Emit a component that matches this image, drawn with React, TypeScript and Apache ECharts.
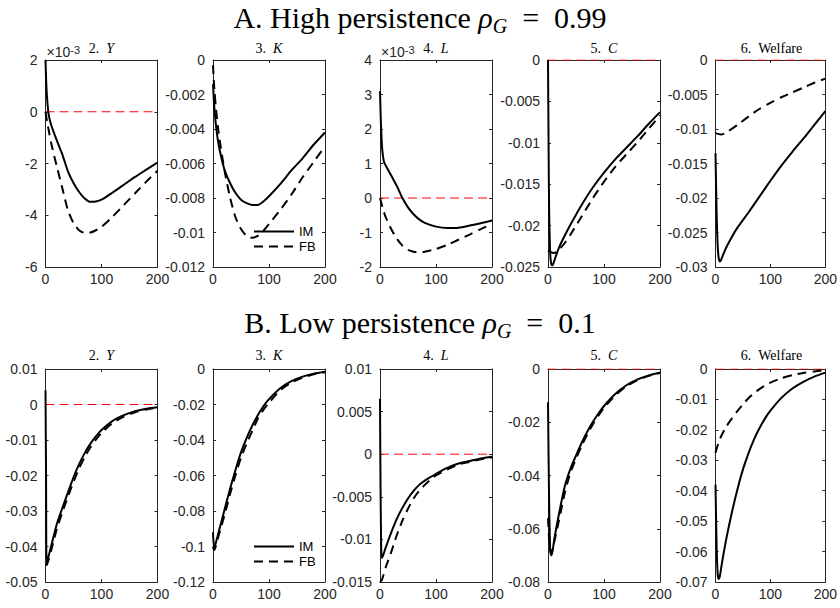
import React, { useEffect, useRef } from 'react';
import * as echarts from 'echarts';

// ---------- Data ----------
// Panel A: high persistence rho_G = 0.99 ; Y and L in units of 1e-3
const yA_IM = [[0, 2.0], [1, 1.3], [2, 0.8], [4, 0.2], [6, -0.15], [10, -0.5], [20, -1.1], [30, -1.65], [40, -2.3], [50, -2.75], [60, -3.1], [70, -3.35], [80, -3.48], [90, -3.47], [100, -3.4], [120, -3.12], [140, -2.82], [160, -2.52], [180, -2.24], [200, -1.96]];
const yA_FB = [[0, 0], [3, -0.4], [6, -0.75], [10, -1.2], [20, -2.1], [30, -2.95], [40, -3.8], [50, -4.3], [60, -4.58], [70, -4.68], [80, -4.67], [90, -4.58], [100, -4.45], [120, -4.05], [140, -3.6], [160, -3.15], [180, -2.7], [200, -2.28]];
const kA_IM = [[0, -0.0014], [2, -0.0026], [5, -0.0037], [10, -0.0049], [20, -0.0063], [30, -0.0071], [40, -0.0077], [50, -0.0081], [60, -0.0083], [70, -0.0084], [80, -0.0084], [90, -0.0082], [100, -0.0079], [120, -0.0072], [140, -0.0064], [160, -0.0057], [180, -0.0049], [200, -0.0042]];
const kA_FB = [[0, -0.0003], [2, -0.0015], [5, -0.0027], [10, -0.0042], [20, -0.0063], [30, -0.0079], [40, -0.0091], [50, -0.0098], [60, -0.0102], [70, -0.0103], [80, -0.0102], [90, -0.0099], [100, -0.0095], [120, -0.0087], [140, -0.0078], [160, -0.0068], [180, -0.0059], [200, -0.005]];
const lA_IM = [[0, 3.1], [1, 2.5], [2, 2.0], [4, 1.4], [7, 1.05], [10, 0.95], [20, 0.65], [30, 0.35], [40, 0.0], [50, -0.27], [60, -0.47], [70, -0.62], [80, -0.72], [100, -0.83], [120, -0.87], [140, -0.86], [160, -0.8], [180, -0.73], [200, -0.65]];
const lA_FB = [[0, 0], [5, -0.3], [10, -0.55], [20, -0.9], [30, -1.18], [40, -1.38], [50, -1.5], [60, -1.56], [70, -1.58], [80, -1.56], [100, -1.48], [120, -1.36], [140, -1.21], [160, -1.06], [180, -0.9], [200, -0.75]];
const cA_IM = [[0, 0], [1, -0.01], [2, -0.018], [4, -0.0235], [6, -0.0247], [8, -0.0248], [10, -0.0245], [14, -0.0237], [20, -0.0226], [30, -0.0212], [40, -0.0199], [60, -0.0175], [80, -0.0154], [100, -0.0136], [120, -0.012], [140, -0.0106], [160, -0.0092], [180, -0.0077], [200, -0.0063]];
const cA_FB = [[0, -0.023], [5, -0.0232], [10, -0.0233], [15, -0.0232], [20, -0.0229], [30, -0.0221], [40, -0.0211], [60, -0.0189], [80, -0.0167], [100, -0.0147], [120, -0.0129], [140, -0.0114], [160, -0.0099], [180, -0.0083], [200, -0.0067]];
const wA_IM = [[0, -0.0135], [2, -0.022], [4, -0.027], [6, -0.0288], [8, -0.0292], [10, -0.029], [14, -0.0282], [20, -0.0271], [30, -0.0256], [40, -0.0243], [60, -0.0221], [80, -0.0198], [100, -0.0175], [120, -0.0153], [140, -0.0133], [160, -0.0114], [180, -0.0094], [200, -0.0074]];
const wA_FB = [[0, -0.0106], [10, -0.0108], [20, -0.0105], [40, -0.0094], [60, -0.0082], [80, -0.0071], [100, -0.0062], [120, -0.0054], [140, -0.0047], [160, -0.004], [180, -0.0033], [200, -0.0027]];

// Panel B: low persistence rho_G = 0.1
const yB_IM = [[0, 0.004], [1, -0.02], [2, -0.0448], [5, -0.043], [10, -0.04], [20, -0.0338], [30, -0.0292], [40, -0.0248], [50, -0.0205], [60, -0.0168], [70, -0.0137], [80, -0.0111], [90, -0.009], [100, -0.0072], [120, -0.0046], [140, -0.003], [160, -0.0019], [180, -0.0012], [200, -0.0008]];
const yB_FB = [[0, -0.045], [2, -0.0452], [5, -0.044], [10, -0.0412], [20, -0.0352], [30, -0.0304], [40, -0.026], [50, -0.0218], [60, -0.018], [70, -0.0148], [80, -0.0121], [90, -0.0099], [100, -0.008], [120, -0.0052], [140, -0.0034], [160, -0.0022], [180, -0.0014], [200, -0.0009]];
const kB_IM = [[0, -0.092], [2, -0.101], [5, -0.098], [10, -0.092], [20, -0.08], [30, -0.068], [40, -0.057], [50, -0.047], [60, -0.039], [70, -0.032], [80, -0.026], [90, -0.021], [100, -0.017], [120, -0.0108], [140, -0.0068], [160, -0.0043], [180, -0.0026], [200, -0.0015]];
const kB_FB = [[0, -0.1], [2, -0.102], [5, -0.1], [10, -0.094], [20, -0.083], [30, -0.071], [40, -0.06], [50, -0.05], [60, -0.042], [70, -0.035], [80, -0.028], [90, -0.023], [100, -0.019], [120, -0.012], [140, -0.0076], [160, -0.0048], [180, -0.003], [200, -0.0018]];
const lB_IM = [[0, 0.0065], [1, -0.004], [3, -0.0122], [6, -0.0118], [10, -0.011], [20, -0.0092], [30, -0.0076], [40, -0.0063], [50, -0.0052], [60, -0.0043], [70, -0.0036], [80, -0.0031], [90, -0.0027], [100, -0.0023], [120, -0.0016], [140, -0.0011], [160, -0.0008], [180, -0.0005], [200, -0.0003]];
const lB_FB = [[0, -0.015], [3, -0.0148], [6, -0.0142], [10, -0.0133], [20, -0.0115], [30, -0.0095], [40, -0.0078], [50, -0.0064], [60, -0.0052], [70, -0.0043], [80, -0.0036], [90, -0.003], [100, -0.0025], [120, -0.0018], [140, -0.0012], [160, -0.0009], [180, -0.0006], [200, -0.0004]];
const cB_IM = [[0, -0.0125], [2, -0.05], [4, -0.0685], [6, -0.07], [8, -0.0685], [12, -0.063], [20, -0.054], [30, -0.044], [40, -0.0375], [50, -0.0325], [60, -0.0278], [70, -0.0236], [80, -0.0199], [90, -0.0167], [100, -0.0139], [120, -0.0094], [140, -0.0061], [160, -0.0039], [180, -0.0024], [200, -0.0013]];
const cB_FB = [[0, -0.056], [3, -0.067], [6, -0.069], [10, -0.066], [20, -0.0565], [30, -0.0465], [40, -0.039], [50, -0.0337], [60, -0.0289], [70, -0.0246], [80, -0.0208], [90, -0.0175], [100, -0.0146], [120, -0.0099], [140, -0.0065], [160, -0.0042], [180, -0.0026], [200, -0.0015]];
const wB_IM = [[0, -0.038], [2, -0.058], [4, -0.0675], [6, -0.069], [8, -0.068], [12, -0.0635], [20, -0.0555], [30, -0.047], [40, -0.0395], [50, -0.033], [60, -0.0277], [70, -0.0232], [80, -0.0195], [90, -0.0163], [100, -0.0137], [120, -0.0095], [140, -0.0064], [160, -0.0042], [180, -0.0025], [200, -0.0012]];
const wB_FB = [[0, -0.0275], [5, -0.0245], [10, -0.0222], [20, -0.0188], [30, -0.0162], [40, -0.0138], [50, -0.0116], [60, -0.0096], [70, -0.008], [80, -0.0066], [90, -0.0055], [100, -0.0045], [120, -0.003], [140, -0.002], [160, -0.0013], [180, -0.0008], [200, -0.0004]];

// Panel titles and y-axis ranges [min, max, interval]
const panelNums = ['2.', '3.', '4.', '5.', '6.'];
const panelVars = ['Y', 'K', 'L', 'C', 'Welfare'];
const rangesA = [[-6, 2, 2], [-0.012, 0, 0.002], [-2, 4, 1], [-0.025, 0, 0.005], [-0.03, 0, 0.005]];
const rangesB = [[-0.05, 0.01, 0.01], [-0.12, 0, 0.02], [-0.015, 0.01, 0.005], [-0.08, 0, 0.02], [-0.07, 0, 0.01]];
const xTicks = [0, 200, 100];
const rowTitles = [
  { label: 'A. High persistence ', value: '\u2002=\u20020.99' },
  { label: 'B. Low persistence ', value: '\u2002=\u20020.1' },
];

const SANS = "'Liberation Sans', Arial, Helvetica, sans-serif";
const SERIF = "'Liberation Serif', 'Times New Roman', serif";
const AX = '#262626';

function fmt(v: number) {
  const r = Math.round(v * 1e6) / 1e6;
  return String(r === 0 ? 0 : r);
}

function buildOption() {
  const rowsIM = [[yA_IM, kA_IM, lA_IM, cA_IM, wA_IM], [yB_IM, kB_IM, lB_IM, cB_IM, wB_IM]];
  const rowsFB = [[yA_FB, kA_FB, lA_FB, cA_FB, wA_FB], [yB_FB, kB_FB, lB_FB, cB_FB, wB_FB]];
  const rowsRange = [rangesA, rangesB];
  const lefts = [45.5, 213, 380, 548, 715.5];
  const tops = [60, 369];
  const heights = [207, 213];
  const width = 112;

  const grid: any[] = [];
  const xAxis: any[] = [];
  const yAxis: any[] = [];
  const series: any[] = [];
  const graphic: any[] = [];
  const legend: any[] = [];

  for (let r = 0; r < 2; r++) {
    for (let c = 0; c < 5; c++) {
      const gi = grid.length;
      const [mn, mx, iv] = rowsRange[r][c];
      grid.push({ left: lefts[c], top: tops[r], width, height: heights[r], containLabel: false });
      const lineSty = { show: true, onZero: false, lineStyle: { color: AX, width: 1 } };
      const tick = { show: true, inside: true, length: 3, lineStyle: { color: AX } };
      xAxis.push({
        type: 'value', gridIndex: gi, min: xTicks[0], max: xTicks[1], interval: xTicks[2], position: 'bottom',
        axisLine: lineSty, axisTick: tick, splitLine: { show: false },
        axisLabel: { fontSize: 14, fontFamily: SANS, color: AX, margin: 5, formatter: fmt },
      });
      yAxis.push({
        type: 'value', gridIndex: gi, min: mn, max: mx, interval: iv, position: 'left',
        axisLine: lineSty, axisTick: tick, splitLine: { show: false },
        axisLabel: { fontSize: 14, fontFamily: SANS, color: AX, margin: 8, formatter: fmt },
      });
      xAxis.push({
        type: 'value', gridIndex: gi, min: xTicks[0], max: xTicks[1], interval: xTicks[2], position: 'top',
        axisLine: lineSty, axisTick: tick, splitLine: { show: false }, axisLabel: { show: false },
      });
      yAxis.push({
        type: 'value', gridIndex: gi, min: mn, max: mx, interval: iv, position: 'right',
        axisLine: lineSty, axisTick: tick, splitLine: { show: false }, axisLabel: { show: false },
      });
      const xi = gi * 2;
      const yi = gi * 2;
      if (c !== 1) {
        series.push({
          type: 'line', name: 'zero', xAxisIndex: xi, yAxisIndex: yi, data: [[0, 0], [200, 0]],
          symbol: 'none', silent: true, z: 1,
          lineStyle: { color: '#ff0000', width: 1, type: [9, 5] },
        });
      }
      series.push({
        type: 'line', name: 'IM', xAxisIndex: xi, yAxisIndex: yi, data: rowsIM[r][c],
        symbol: 'none', smooth: 0.25, z: 3, color: '#000',
        lineStyle: { color: '#000', width: 2, type: 'solid' },
      });
      series.push({
        type: 'line', name: 'FB', xAxisIndex: xi, yAxisIndex: yi, data: rowsFB[r][c],
        symbol: 'none', smooth: 0.25, z: 3, color: '#000',
        lineStyle: { color: '#000', width: 2, type: [9, 6] },
      });

      const cx = lefts[c] + width / 2;
      const ty = r === 0 ? 48.5 : 355.5;
      const varIsItalic = panelVars[c].length === 1;
      graphic.push({
        type: 'text', x: cx, y: ty, silent: true,
        style: {
          text: `{n|${panelNums[c]}  }{${varIsItalic ? 'i' : 'n'}|${panelVars[c]}}`,
          align: 'center', verticalAlign: 'middle',
          rich: {
            n: { fontFamily: SERIF, fontSize: 14, fill: '#000', lineHeight: 16 },
            i: { fontFamily: SERIF, fontSize: 14, fontStyle: 'italic', fill: '#000', lineHeight: 16 },
          },
        },
      });
      if (r === 0 && (c === 0 || c === 2)) {
        graphic.push({
          type: 'text', x: lefts[c] + 1, y: 52, silent: true,
          style: {
            text: '{a|×10}{b|-3}', align: 'left', verticalAlign: 'middle',
            rich: {
              a: { fontFamily: SANS, fontSize: 14, fill: AX, lineHeight: 16 },
              b: { fontFamily: SANS, fontSize: 11, fill: AX, lineHeight: 10, verticalAlign: 'top' },
            },
          },
        });
      }
      if (c === 1) {
        legend.push({
          data: ['IM', 'FB'], orient: 'vertical', left: 253, top: r === 0 ? 225 : 540,
          itemWidth: 40, itemHeight: 14, itemGap: 2, selectedMode: false, padding: 0,
          itemStyle: { color: 'rgba(0,0,0,0)', borderWidth: 0, opacity: 0 },
          textStyle: { fontSize: 13, fontFamily: SANS, color: '#000' },
        });
      }
    }
  }

  rowTitles.forEach((t, r) => {
    graphic.push({
      type: 'text', x: 420, y: r === 0 ? 17.5 : 322.5, silent: true,
      style: {
        text: `{n|${t.label}}{i|ρ}{s|G}{n|${t.value}}`,
        align: 'center', verticalAlign: 'middle',
        rich: {
          n: { fontFamily: SERIF, fontSize: 30, fill: '#000', lineHeight: 36 },
          i: { fontFamily: SERIF, fontSize: 30, fontStyle: 'italic', fill: '#000', lineHeight: 36 },
          s: { fontFamily: SERIF, fontSize: 20, fontStyle: 'italic', fill: '#000', lineHeight: 21, verticalAlign: 'bottom' },
        },
      },
    });
  });

  return {
    animation: false,
    backgroundColor: '#fff',
    grid, xAxis, yAxis, series, graphic, legend,
  };
}

export default function App() {
  const ref = useRef<HTMLDivElement>(null);
  useEffect(() => {
    document.body.style.margin = '0';
    const chart = echarts.init(ref.current!, null, { renderer: 'svg' });
    chart.setOption(buildOption() as any);
    return () => chart.dispose();
  }, []);
  return <div ref={ref} style={{ width: 840, height: 608 }} />;
}
